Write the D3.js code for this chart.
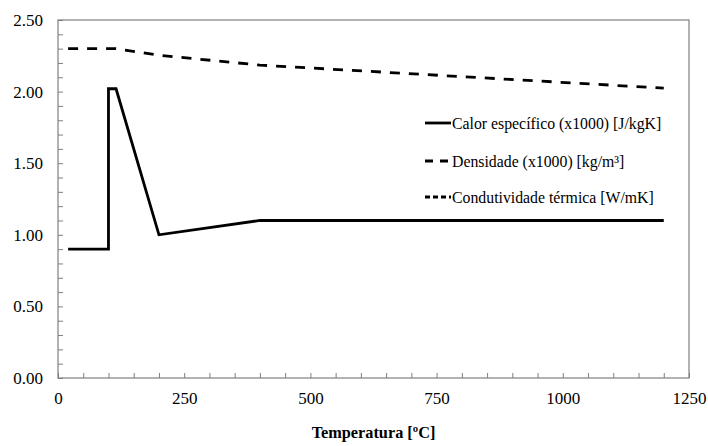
<!DOCTYPE html>
<html><head><meta charset="utf-8">
<script src="https://cdn.jsdelivr.net/npm/d3@7"></script>
<style>body{margin:0;background:#fff}svg{display:block}</style>
</head><body>
<script>
const temperatures = [20, 100, 100, 115, 200, 400, 1200];
const specificHeat = [0.9, 0.9, 2.02, 2.02, 1.0, 1.1, 1.1];
const densityTemps = [20, 115, 200, 400, 1200];
const density = [2.30, 2.30, 2.254, 2.185, 2.024];
const conductivityTemps = [];
const conductivity = [];
const xTicks = [0, 250, 500, 750, 1000, 1250];
const yTicks = [0, 0.5, 1.0, 1.5, 2.0, 2.5];
const seriesNames = ["Calor específico (x1000) [J/kgK]", "Densidade (x1000) [kg/m³]", "Condutividade térmica [W/mK]"];

const W = 708, H = 446;
const m = {l: 58, r: 689, t: 20, b: 378};
const FONT = "Liberation Serif";
const svg = d3.select("body").append("svg").attr("width", W).attr("height", H);
const x = d3.scaleLinear().domain([0, 1250]).range([m.l, m.r]);
const y = d3.scaleLinear().domain([0, 2.5]).range([m.b, m.t]);
const axisColor = "#7f7f7f";

svg.append("rect").attr("x", m.l).attr("y", m.t).attr("width", m.r - m.l).attr("height", m.b - m.t)
  .attr("fill", "none").attr("stroke", axisColor).attr("stroke-width", 1.2);

const xg = svg.append("g").attr("transform", `translate(0,${m.b})`)
  .call(d3.axisBottom(x).tickValues(d3.range(0, 1251, 50)).tickSize(-5).tickFormat(""));
xg.select(".domain").remove();
xg.selectAll("line").attr("stroke", axisColor);
const xl = svg.append("g").attr("transform", `translate(0,${m.b})`)
  .call(d3.axisBottom(x).tickValues(xTicks).tickSize(0).tickPadding(14).tickFormat(d3.format("d")));
xl.select(".domain").remove();
xl.attr("font-family", FONT).attr("font-size", 17);
xl.selectAll("text").attr("font-family", FONT).attr("font-size", 17).attr("fill", "#000");

const yg = svg.append("g").attr("transform", `translate(${m.l},0)`)
  .call(d3.axisLeft(y).tickValues(d3.range(0, 26).map(i => i / 10)).tickSize(-5).tickFormat(""));
yg.select(".domain").remove();
yg.selectAll("line").attr("stroke", axisColor);
const yl = svg.append("g").attr("transform", `translate(${m.l},0)`)
  .call(d3.axisLeft(y).tickValues(yTicks).tickSize(0).tickPadding(15).tickFormat(d3.format(".2f")));
yl.select(".domain").remove();
yl.attr("font-family", FONT).attr("font-size", 17);
yl.selectAll("text").attr("font-family", FONT).attr("font-size", 17).attr("fill", "#000");

svg.append("text").attr("x", (m.l + m.r) / 2).attr("y", 438).attr("text-anchor", "middle")
  .attr("font-family", FONT).attr("font-weight", "bold").attr("font-size", 16.3).text("Temperatura [ºC]");

const line = d3.line().x(d => x(d[0])).y(d => y(d[1]));
const styles = [
  {dash: null, w: 2.8},
  {dash: "10,9", w: 2.8},
  {dash: "5,3", w: 2.8}
];
const data = [
  d3.zip(temperatures, specificHeat),
  d3.zip(densityTemps, density),
  d3.zip(conductivityTemps, conductivity)
];
data.forEach((d, i) => {
  if (!d.length) return;
  svg.append("path").attr("d", line(d)).attr("fill", "none").attr("stroke", "#000")
    .attr("stroke-width", styles[i].w).attr("stroke-dasharray", styles[i].dash).attr("stroke-linejoin", "miter");
});

const legY = [123, 161, 197];
seriesNames.forEach((n, i) => {
  const g = svg.append("g");
  g.append("line").attr("x1", 425).attr("x2", 451).attr("y1", legY[i]).attr("y2", legY[i])
    .attr("stroke", "#000").attr("stroke-width", 2.8)
    .attr("stroke-dasharray", i === 0 ? null : (i === 1 ? "8,7" : "5,3"));
  g.append("text").attr("x", 452).attr("y", legY[i]).attr("dy", "0.35em")
    .attr("font-family", FONT).attr("font-size", 15.8).text(n);
});
</script>
</body></html>
